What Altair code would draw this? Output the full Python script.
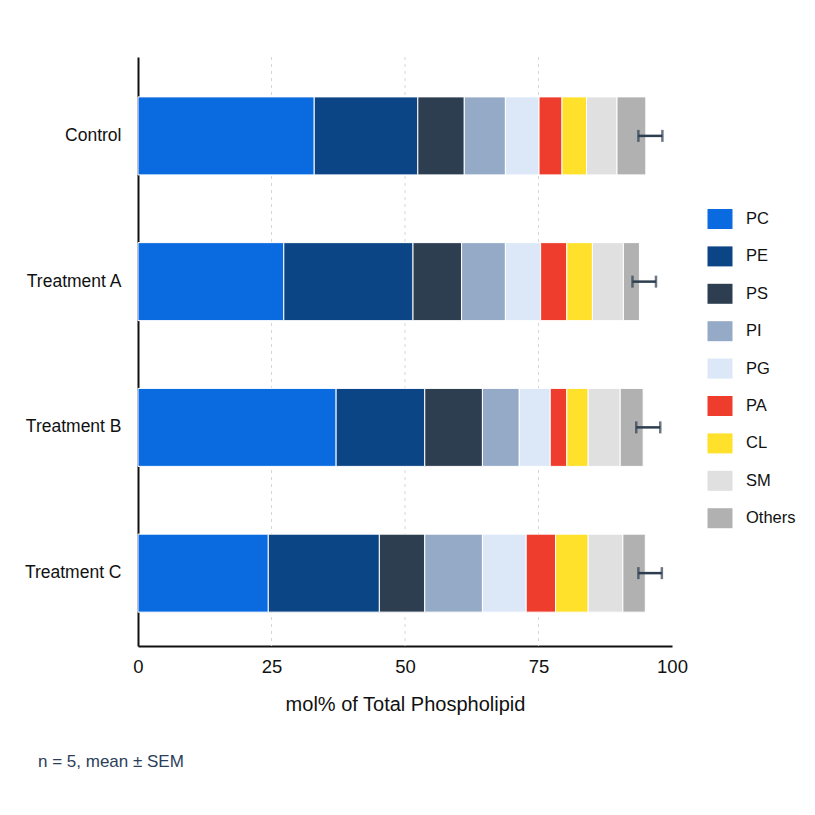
import altair as alt
import pandas as pd

groups = ["Control", "Treatment A", "Treatment B", "Treatment C"]
classes = ["PC", "PE", "PS", "PI", "PG", "PA", "CL", "SM", "Others"]
colors = ["#0a6be0", "#0c4585", "#2c3e50", "#95aac6", "#dce8f8",
          "#ee3d2c", "#ffe02b", "#e0e0e0", "#b1b1b1"]

# mol% values per group, in class order
control = [33.0, 19.4, 8.7, 7.7, 6.3, 4.3, 4.6, 5.7, 5.4]
treat_a = [27.3, 24.2, 9.1, 8.2, 6.6, 4.9, 4.8, 5.8, 3.0]
treat_b = [37.1, 16.6, 10.8, 6.9, 5.8, 3.1, 4.0, 6.0, 4.3]
treat_c = [24.4, 20.8, 8.5, 10.8, 8.2, 5.5, 6.1, 6.5, 4.2]

# error bar ends (total mol%, mean ± SEM)
err_lo = [93.7, 92.6, 93.3, 93.7]
err_hi = [98.2, 97.0, 97.8, 98.1]

x_ticks = [0, 25, 50, 75, 100]
grid_vals = [25, 50, 75]
note = "n = 5, mean \u00b1 SEM"

rows = []
for g, vals in zip(groups, [control, treat_a, treat_b, treat_c]):
    for i, (c, v) in enumerate(zip(classes, vals)):
        rows.append({"group": g, "cls": c, "idx": i, "value": v})
df = pd.DataFrame(rows)
err_df = pd.DataFrame({"group": groups, "lo": err_lo, "hi": err_hi})
grid_df = pd.DataFrame({"g": grid_vals})
note_df = pd.DataFrame({"t": [note]})

FONT = "Liberation Sans"
xscale = alt.Scale(domain=[0, 100], nice=False)
yscale = alt.Scale(domain=groups, paddingInner=0, paddingOuter=0.0206, align=1)

grid = alt.Chart(grid_df).mark_rule(color="#d6d6d6", strokeDash=[3, 4], strokeWidth=1).encode(
    x=alt.X("g:Q", scale=xscale)
)

bars = alt.Chart(df).mark_bar(size=78, stroke="white", strokeWidth=1).encode(
    x=alt.X("sum(value):Q", stack="zero", scale=xscale,
            axis=alt.Axis(values=x_ticks, title="mol% of Total Phospholipid", grid=False,
                          ticks=False, domainColor="#111", domainWidth=2,
                          labelFontSize=18.5, labelColor="#111", labelPadding=11,
                          titleFontSize=20, titleFontWeight="normal", titleColor="#111",
                          titlePadding=19, labelFlush=False)),
    y=alt.Y("group:N", scale=yscale,
            axis=alt.Axis(title=None, ticks=False, domainColor="#111", domainWidth=2,
                          labelFontSize=17.5, labelColor="#111", labelPadding=17)),
    color=alt.Color("cls:N", scale=alt.Scale(domain=classes, range=colors),
                    legend=alt.Legend(title=None, orient="none", legendX=572, legendY=152,
                                      symbolType="M-1.25,-1H1.25V1H-1.25Z", symbolSize=400,
                                      symbolStrokeWidth=0, labelFontSize=16.5, labelColor="#111",
                                      labelOffset=16, rowPadding=17.4)),
    order=alt.Order("idx:Q", sort="ascending"),
)

err_rule = alt.Chart(err_df).mark_rule(color="#2c3e50", strokeWidth=2.5).encode(
    x=alt.X("lo:Q", scale=xscale), x2="hi:Q", y=alt.Y("group:N", scale=yscale)
)
cap_lo = alt.Chart(err_df).mark_tick(color="#2c3e50", thickness=2.5, size=12, orient="vertical").encode(
    x=alt.X("lo:Q", scale=xscale), y=alt.Y("group:N", scale=yscale)
)
cap_hi = alt.Chart(err_df).mark_tick(color="#2c3e50", thickness=2.5, size=12, orient="vertical").encode(
    x=alt.X("hi:Q", scale=xscale), y=alt.Y("group:N", scale=yscale)
)

footnote = alt.Chart(note_df).mark_text(
    align="left", baseline="middle", fontSize=17, color="#2c3e5a", font=FONT
).encode(x=alt.value(-100), y=alt.value(705), text="t:N")

chart = alt.layer(grid, bars, err_rule, cap_lo, cap_hi, footnote).properties(
    width=534, height=589,
    autosize=alt.AutoSizeParams(type="none"),
    padding={"left": 130, "top": 49, "right": 135, "bottom": 150},
).configure(font=FONT).configure_view(stroke=None).configure_axis(
    labelFont=FONT, titleFont=FONT
).configure_legend(labelFont=FONT)

chart.save("out.html", embed_options={"renderer": "svg", "actions": False})
